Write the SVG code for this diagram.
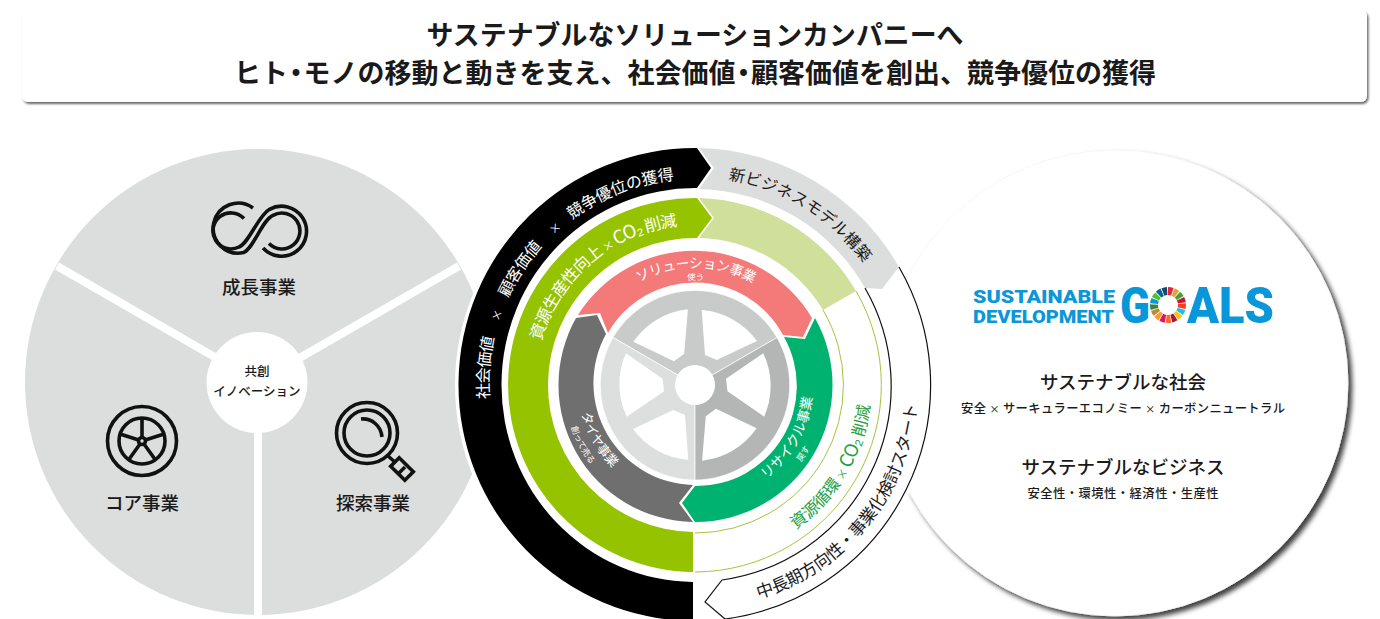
<svg xmlns="http://www.w3.org/2000/svg" xmlns:xlink="http://www.w3.org/1999/xlink" width="1380" height="619" viewBox="0 0 1380 619">
<style>
text{font-family:"Noto Sans CJK JP","Liberation Sans",sans-serif;fill:#1a1a1a}
.c{text-anchor:middle}
.w{fill:#fff}
.m{font-weight:500}
.ic{fill:none;stroke:#111;stroke-width:3.600}
.thin{fill:none;stroke:#a9c23f;stroke-width:1}
.sdg{fill:none;stroke-width:8;stroke-dasharray:4.4 83.56}
.logo{font-family:Roboto,"Liberation Sans",sans-serif;font-weight:900;fill:#0a97d9}
</style>
<defs>
<filter id="sh1" x="-5%" y="-20%" width="110%" height="140%"><feDropShadow dx="1.5" dy="2" stdDeviation="1.2" flood-color="#000" flood-opacity=".6"/></filter>
<filter id="sh2" x="-10%" y="-10%" width="120%" height="120%"><feDropShadow dx="4" dy="4" stdDeviation="2.500" flood-color="#000" flood-opacity=".75"/></filter>
<path id="win" d="M6.7 -75A76 76 0 0 1 62 -44L21.7 -25L10 -30Z" fill="#fff"/>
<path id="cw206" d="M695 591A206 206 0 1 1 695 179A206 206 0 1 1 695 591"/>
<path id="cw208" d="M695 593A208 208 0 1 1 695 177A208 208 0 1 1 695 593"/>
<path id="cw160" d="M695 545A160 160 0 1 1 695 225A160 160 0 1 1 695 545"/>
<path id="cw117" d="M695 502A117 117 0 1 1 695 268A117 117 0 1 1 695 502"/>
<path id="cw105" d="M695 490A105 105 0 1 1 695 280A105 105 0 1 1 695 490"/>
<path id="ccw117" d="M695 268A117 117 0 1 0 695 502A117 117 0 1 0 695 268"/>
<path id="ccw118" d="M695 267A118 118 0 1 0 695 503A118 118 0 1 0 695 267"/>
<path id="ccw131" d="M695 254A131 131 0 1 0 695 516A131 131 0 1 0 695 254"/>
<path id="ccw176" d="M695 209A176 176 0 1 0 695 561A176 176 0 1 0 695 209"/>
<path id="ccw223" d="M695 162A223 223 0 1 0 695 608A223 223 0 1 0 695 162"/>
</defs>

<g id="banner">
<rect x="22" y="10" width="1345" height="92" rx="6" fill="#fff" filter="url(#sh1)"/>
<text class="c" x="695" y="45" font-size="26.800" font-weight="700" textLength="537" lengthAdjust="spacingAndGlyphs">サステナブルなソリューションカンパニーへ</text>
<text class="c" x="695" y="83" font-size="27" font-weight="700">ヒト<tspan dx="-5.500">・</tspan><tspan dx="-6">モノの移動と動きを支え、社会価値</tspan><tspan dx="-5.500">・</tspan><tspan dx="-6">顧客価値を創出、競争優位の獲得</tspan></text>
</g>

<g id="business-domains">
<circle cx="258" cy="382" r="233" fill="#dcdddd"/>
<path d="M258 382L57 266M258 382L459 266M258 382V620" stroke="#fff" stroke-width="8" fill="none"/>
<circle cx="257" cy="382.500" r="50.500" fill="#fff"/>
<text class="c m" x="257" y="376" font-size="12.500">共創</text>
<text class="c m" x="257" y="396" font-size="12.500">イノベーション</text>
</g>
<g id="growth">
<path class="ic" d="M253 208A25 25 0 1 0 243.500 252.600C254 248 262 220 273 215.400A18 18 0 1 1 269 243.600"/>
<path class="ic" d="M244 218.500A18 18 0 1 0 239 247C249 243 258 216 269.500 209.300A25 25 0 1 1 263 248"/>
<text class="c m" x="259" y="294" font-size="18.500">成長事業</text>
</g>
<g id="core">
<circle class="ic" cx="142" cy="441" r="34.500"/>
<circle class="ic" cx="142" cy="441" r="23"/>
<circle class="ic" cx="142" cy="441" r="3.500"/>
<path class="ic" d="M142 437.500V418M145.300 440L164 434M144 444L155.500 460M140 444L128.500 460M138.700 440L120 434"/>
<text class="c m" x="142" y="510" font-size="18.500">コア事業</text>
</g>
<g id="explore">
<circle class="ic" cx="367" cy="433" r="30.500"/>
<circle class="ic" cx="367" cy="433" r="23"/>
<path class="ic" d="M361 419C372 418 381 426 382 437"/>
<path class="ic" d="M388 456L396 463"/>
<rect class="ic" x="392" y="463" width="20" height="12" transform="rotate(45 402 469)"/>
<path class="ic" d="M399 473L405 467"/>
<text class="c m" x="373" y="510" font-size="18.500">探索事業</text>
</g>

<g id="sustainable">
<circle cx="1115" cy="383" r="233" fill="#fff" stroke="#f2f2f2" stroke-width=".6" filter="url(#sh2)"/>
<text class="logo" x="973" y="303" font-size="18" textLength="142" lengthAdjust="spacingAndGlyphs">SUSTAINABLE</text>
<text class="logo" x="973" y="322.500" font-size="18" textLength="141" lengthAdjust="spacingAndGlyphs">DEVELOPMENT</text>
<text class="logo" x="1120" y="322.500" font-size="50" textLength="30" lengthAdjust="spacingAndGlyphs">G</text>
<text class="logo" x="1187" y="322.500" font-size="50" textLength="87" lengthAdjust="spacingAndGlyphs">ALS</text>
<g transform="rotate(-90 1168 305)">
<circle class="sdg" cx="1168" cy="305" r="14" stroke="#e5243b"/>
<circle class="sdg" cx="1168" cy="305" r="14" stroke="#dda63a" transform="rotate(21.18 1168 305)"/>
<circle class="sdg" cx="1168" cy="305" r="14" stroke="#4c9f38" transform="rotate(42.35 1168 305)"/>
<circle class="sdg" cx="1168" cy="305" r="14" stroke="#c5192d" transform="rotate(63.53 1168 305)"/>
<circle class="sdg" cx="1168" cy="305" r="14" stroke="#ff3a21" transform="rotate(84.71 1168 305)"/>
<circle class="sdg" cx="1168" cy="305" r="14" stroke="#26bde2" transform="rotate(105.88 1168 305)"/>
<circle class="sdg" cx="1168" cy="305" r="14" stroke="#fcc30b" transform="rotate(127.06 1168 305)"/>
<circle class="sdg" cx="1168" cy="305" r="14" stroke="#a21942" transform="rotate(148.24 1168 305)"/>
<circle class="sdg" cx="1168" cy="305" r="14" stroke="#fd6925" transform="rotate(169.41 1168 305)"/>
<circle class="sdg" cx="1168" cy="305" r="14" stroke="#dd1367" transform="rotate(190.59 1168 305)"/>
<circle class="sdg" cx="1168" cy="305" r="14" stroke="#fd9d24" transform="rotate(211.76 1168 305)"/>
<circle class="sdg" cx="1168" cy="305" r="14" stroke="#bf8b2e" transform="rotate(232.94 1168 305)"/>
<circle class="sdg" cx="1168" cy="305" r="14" stroke="#3f7e44" transform="rotate(254.12 1168 305)"/>
<circle class="sdg" cx="1168" cy="305" r="14" stroke="#0a97d9" transform="rotate(275.29 1168 305)"/>
<circle class="sdg" cx="1168" cy="305" r="14" stroke="#56c02b" transform="rotate(296.47 1168 305)"/>
<circle class="sdg" cx="1168" cy="305" r="14" stroke="#00689d" transform="rotate(317.65 1168 305)"/>
<circle class="sdg" cx="1168" cy="305" r="14" stroke="#19486a" transform="rotate(338.82 1168 305)"/>
</g>
<text class="c m" x="1123" y="389" font-size="18.500">サステナブルな社会</text>
<text class="c m" x="1123" y="413" font-size="12.300" textLength="324" lengthAdjust="spacing">安全 <tspan font-size="10">×</tspan> サーキュラーエコノミー <tspan font-size="10">×</tspan> カーボンニュートラル</text>
<text class="c m" x="1123" y="474" font-size="18.500">サステナブルなビジネス</text>
<text class="c m" x="1123" y="498" font-size="12.300" textLength="191" lengthAdjust="spacing">安全性・環境性・経済性・生産性</text>
</g>

<g id="value-ring">
<circle cx="695" cy="385" r="240" fill="#fff"/>
<path d="M693 621A236 236 0 0 1 697 148L711 168L697 188A193.500 197 0 0 0 693 582Z" fill="#000"/>
<text class="w" font-size="16" letter-spacing="-.7"><textPath xlink:href="#cw206" href="#cw206" startOffset="26.3%" class="c">社会価値</textPath></text>
<text class="w" font-size="11"><textPath xlink:href="#cw206" href="#cw206" startOffset="30.4%" class="c">×</textPath></text>
<text class="w" font-size="16" letter-spacing="-.7"><textPath xlink:href="#cw206" href="#cw206" startOffset="34.3%" class="c">顧客価値</textPath></text>
<text class="w" font-size="11"><textPath xlink:href="#cw206" href="#cw206" startOffset="38.4%" class="c">×</textPath></text>
<text class="w" font-size="16" letter-spacing="-.2"><textPath xlink:href="#cw206" href="#cw206" startOffset="44.1%" class="c">競争優位の獲得</textPath></text>
</g>
<g id="new-business">
<path d="M699 148A236 236 0 0 1 899 267L882 289L865 288A196 196 0 0 0 699 189L714 168Z" fill="#dcdddd"/>
<text font-size="16" letter-spacing=".3"><textPath xlink:href="#cw208" href="#cw208" startOffset="58.8%" class="c">新ビジネスモデル構築</textPath></text>
</g>
<g id="mid-term">
<path d="M899 267A236 236 0 0 1 725 619L705 602L722 580A196 196 0 0 0 865 288" fill="none" stroke="#111" stroke-width="1.200"/>
<text font-size="17" letter-spacing="-.4"><textPath xlink:href="#ccw223" href="#ccw223" startOffset="64.1%" class="c">中長期方向性・事業化検討スタート</textPath></text>
</g>
<g id="productivity">
<path d="M699 198A187 187 0 0 1 856 291L823 310A148 148 0 0 0 699 238L714 218Z" fill="#d0e09a"/>
<path d="M693 572A187 187 0 0 1 697 198L712 218L697 238A147 147 0 0 0 693 532Z" fill="#95c300"/>
<text class="w" font-size="16.500" letter-spacing="-.9"><textPath xlink:href="#cw160" href="#cw160" startOffset="38.8%" class="c">資源生産性向上 <tspan font-size="11">×</tspan> <tspan font-size="18.500">CO₂</tspan> 削減</textPath></text>
</g>
<g id="circulation">
<path class="thin" d="M856 291A187 187 0 0 1 695 572M823 310A148 148 0 0 1 695 533"/>
<text font-size="16.500" letter-spacing="-.4"><textPath xlink:href="#ccw176" href="#ccw176" startOffset="66.4%" class="c" style="fill:#22a040">資源循環 <tspan font-size="11" style="fill:#22a040">×</tspan> <tspan font-size="18.500" style="fill:#22a040">CO₂</tspan> 削減</textPath></text>
</g>
<g id="solution">
<path d="M578 315A137 137 0 0 1 812 318L803 337L783 335A100 100 0 0 0 608 333L600 313Z" fill="#f47a7a"/>
<text class="w" font-size="13.800" letter-spacing="-.6"><textPath xlink:href="#cw117" href="#cw117" startOffset="50.1%" class="c">ソリューション事業</textPath></text>
<text class="w" font-size="8.500"><textPath xlink:href="#cw105" href="#cw105" startOffset="50.1%" class="c">使う</textPath></text>
</g>
<g id="tire">
<path d="M576 318L597 315L606 334A102 102 0 0 0 693 485L679 503L693 522A137 137 0 0 1 576 318Z" fill="#6f6f6f"/>
<text class="w" font-size="13" letter-spacing="-.3"><textPath xlink:href="#ccw117" href="#ccw117" startOffset="33.2%" class="c">タイヤ事業</textPath></text>
<text class="w" font-size="8.500"><textPath xlink:href="#ccw131" href="#ccw131" startOffset="32.8%" class="c">創って売る</textPath></text>
</g>
<g id="recycle">
<path d="M815 318A137 137 0 0 1 695 522L682 503L695 486A100 100 0 0 0 784 337L805 339Z" fill="#00b26f"/>
<text class="w" font-size="14" letter-spacing="0"><textPath xlink:href="#ccw118" href="#ccw118" startOffset="66.8%" class="c">リサイクル事業</textPath></text>
<text class="w" font-size="8.500"><textPath xlink:href="#ccw131" href="#ccw131" startOffset="66%" class="c">戻す</textPath></text>
</g>
<g id="wheel">
<path d="M695 385L777 337.500A95 95 0 0 0 613 337.500Z" fill="#c9cbcb" stroke="#fff" stroke-width=".7"/>
<path d="M695 385L613 337.500A95 95 0 0 0 695 480Z" fill="#dddfdf" stroke="#fff" stroke-width=".7"/>
<path d="M695 385L695 480A95 95 0 0 0 777 337.500Z" fill="#b4b6b6" stroke="#fff" stroke-width=".7"/>
<use href="#win" transform="translate(695 385)"/>
<use href="#win" transform="translate(695 385) rotate(60)"/>
<use href="#win" transform="translate(695 385) rotate(120)"/>
<use href="#win" transform="translate(695 385) rotate(180)"/>
<use href="#win" transform="translate(695 385) rotate(240)"/>
<use href="#win" transform="translate(695 385) rotate(300)"/>
<circle cx="695" cy="385" r="20" fill="#fff"/>
</g>
<g id="connectors"/>
</svg>
